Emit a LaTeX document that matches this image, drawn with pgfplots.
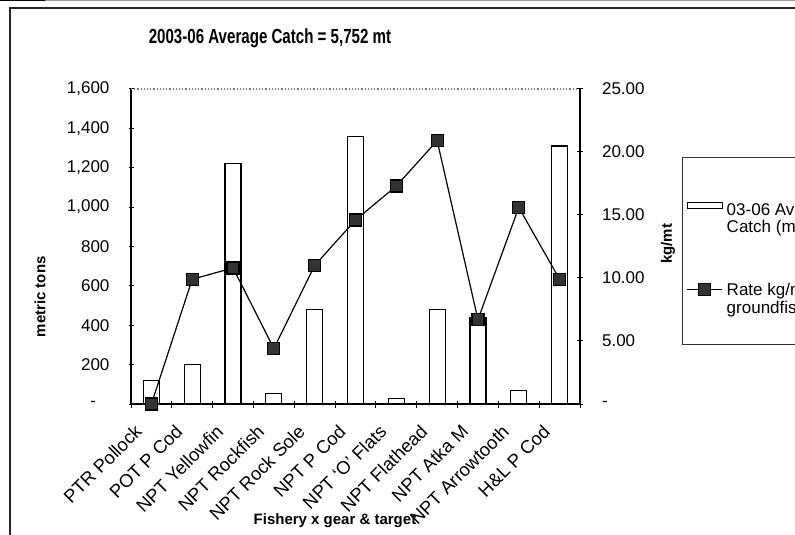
\documentclass[border=0pt]{standalone}
\usepackage{pgfplots}
\pgfplotsset{compat=1.18}
\usepackage{fontspec}
\setmainfont{Liberation Sans}
\newfontfamily\titlefont[FakeStretch=0.74]{Liberation Sans}
\pgfplotsset{
  raised line legend/.style={legend image code/.code={\draw[mark repeat=2,mark phase=2,##1] plot coordinates {(0pt,3pt) (8.75pt,3pt) (17.5pt,3pt)};}},
  raised bar legend/.style={legend image code/.code={\draw[black, fill=white, line width=0.6pt] (0pt,3.4pt) rectangle (17.5pt,6.6pt);}},
}

\begin{document}
\begin{tikzpicture}
\useasboundingbox (0,0) rectangle (397.5pt,267pt);
\clip (0,0) rectangle (397.5pt,267pt);
\begin{scope}[x=0.5pt,y=0.5pt]
\draw[line width=0.6pt, black!85] (10,-5) -- (10,526) -- (805,526);
\draw[line width=0.5pt, black!40] (0,533) -- (800,533);
\draw[line width=1.2pt, black] (0,534) -- (45,534);
\node[font=\titlefont\bfseries\fontsize{10.2}{12}\selectfont] at (270,496) {2003-06 Average Catch = 5,752 mt};
\end{scope}

\begin{axis}[
  at={(65.5pt,65pt)}, anchor=south west,
  scale only axis, width=224.5pt, height=157.5pt,
  xmin=-0.5, xmax=10.5, ymin=0, ymax=1600,
  axis x line*=bottom, axis y line*=left,
  axis line style={black, line width=0.6pt, -},
  xtick={0,...,10},
  xticklabels={PTR Pollock, POT P Cod, NPT Yellowfin, NPT Rockfish, NPT Rock Sole, NPT P Cod, NPT `O' Flats, NPT Flathead, NPT Atka M, NPT Arrowtooth, H\&L P Cod},
  major x tick style={draw=none},
  minor xtick={-0.5,0.5,...,10.5},
  minor tick length=3.5pt,
  major tick length=2.5pt,
  tick align=center,
  tick style={black, line width=0.5pt},
  ytick={0,200,...,1600},
  yticklabels={{\makebox[9.5pt][l]{-}},{200},{400},{600},{800},{1,000},{1,200},{1,400},{1,600}},
  /pgf/number format/assume math mode=true,
  tick label style={font=\fontsize{8.5}{10}\selectfont},
  xticklabel style={font=\fontsize{9.2}{10}\selectfont, xshift=-9pt, yshift=-3.5pt, rotate=45, anchor=north east},
  yticklabel style={xshift=-6pt},
  xlabel={Fishery x gear \& target},
  ylabel={metric tons},
  every axis y label/.style={at={(axis description cs:-0.2027,0.34)}, rotate=90, anchor=center, font=\bfseries\fontsize{7.5}{9}\selectfont},
  every axis x label/.style={at={(axis description cs:0.4543,-0.3714)}, anchor=center, font=\bfseries\fontsize{7.5}{9}\selectfont},
  clip=false,
]
\draw[densely dotted, black!50, line width=0.6pt] (rel axis cs:0,1) -- (rel axis cs:1,1);
\addplot[ybar, bar width=8pt, fill=white, draw=black, line width=0.6pt] coordinates {
(0,119) (1,199) (2,1220) (3,54) (4,482) (5,1360) (6,27) (7,478) (8,440) (9,68) (10,1310)
};
\end{axis}

\begin{axis}[
  at={(65.5pt,65pt)}, anchor=south west,
  scale only axis, width=224.5pt, height=157.5pt,
  xmin=-0.5, xmax=10.5, ymin=0, ymax=25,
  axis x line=none, axis y line*=right,
  axis line style={black, line width=0.6pt, -},
  ytick={0,5,...,25},
  yticklabels={{-},{5.00},{10.00},{15.00},{20.00},{25.00}},
  /pgf/number format/assume math mode=true,
  tick label style={font=\fontsize{8.5}{10}\selectfont},
  yticklabel style={anchor=west, xshift=6pt},
  major tick length=3pt,
  tick align=center,
  tick style={black, line width=0.5pt},
  ylabel={kg/mt},
  every axis y label/.style={at={(axis description cs:1.196,0.508)}, rotate=90, anchor=center, font=\bfseries\fontsize{7.5}{9}\selectfont},
  clip=false,
  legend style={at={(axis description cs:1.2272,0.7841)}, anchor=north west,
    draw=black!80, line width=0.5pt, font=\fontsize{8.5}{8.5}\selectfont,
    nodes={anchor=base west}, row sep=28.5pt, inner xsep=2pt, inner ysep=21pt},
]
\addlegendimage{raised bar legend}
\addlegendentry{\begin{tabular}[t]{@{}l@{}}03-06 Avg\\Catch (mt)\end{tabular}}
\addplot[black, line width=0.6pt, mark=square*, mark size=3pt, mark options={fill=black!80, draw=black, solid}, raised line legend] coordinates {
(0,0) (1,9.9) (2,10.8) (3,4.4) (4,11.0) (5,14.6) (6,17.3) (7,20.9) (8,6.7) (9,15.6) (10,9.9)
};
\addlegendentry{\begin{tabular}[t]{@{}l@{}}Rate kg/mt\\groundfish\end{tabular}}
\end{axis}
\end{tikzpicture}
\end{document}
